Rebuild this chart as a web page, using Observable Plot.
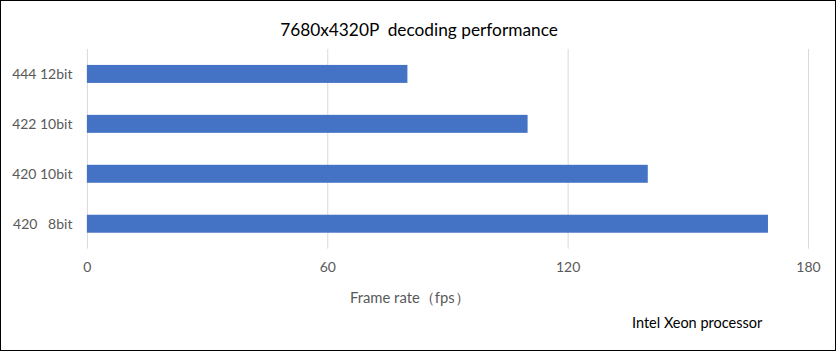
<!DOCTYPE html>
<html>
<head>
<meta charset="utf-8">
<script src="https://cdn.jsdelivr.net/npm/d3@7"></script>
<script src="https://cdn.jsdelivr.net/npm/@observablehq/plot@0.6"></script>
<style>
  html, body { margin: 0; padding: 0; background: #fff; }
  #frame { position: relative; width: 836px; height: 351px; border: 1px solid #000; box-sizing: border-box; overflow: hidden; font-family: Lato, "Liberation Sans", sans-serif; }
  #title { position: absolute; left: 0; width: 836px; top: 18px; text-align: center; font-size: 17.3px; color: #000; white-space: pre; }
  #xlabel { position: absolute; left: 349px; top: 287px; font-size: 14.8px; color: #595959; white-space: pre; }
  #note { position: absolute; left: 631px; top: 313px; font-size: 14.5px; color: #000; white-space: pre; }
  #chart { position: absolute; left: -1px; top: -1px; }
  #chart svg text { white-space: pre; }
</style>
</head>
<body>
<div id="frame">
  <div id="chart"></div>
  <div id="title">7680x4320P  decoding performance</div>
  <div id="xlabel">Frame rate（fps）</div>
  <div id="note">Intel Xeon processor</div>
</div>
<script>
const categories = ["444 12bit", "422 10bit", "420 10bit", "420   8bit"];
const fps = [80, 110, 140, 170];
const xTicks = [0, 60, 120, 180];

const data = categories.map((c, i) => ({category: c, fps: fps[i]}));

const chart = Plot.plot({
  width: 836,
  height: 310,
  marginTop: 49,
  marginBottom: 61,
  marginLeft: 87,
  marginRight: 27,
  style: {fontFamily: "Lato, 'Liberation Sans', sans-serif", fontSize: "14px", color: "#595959", background: "transparent"},
  x: {domain: [0, 180], ticks: xTicks, label: null},
  y: {domain: categories, paddingInner: 0.65, paddingOuter: 0.325, label: null},
  marks: [
    Plot.ruleX(xTicks, {stroke: "#d9d9d9", strokeWidth: 1}),
    Plot.barX(data, {x: "fps", y: "category", fill: "#4472C4"}),
    Plot.axisX({ticks: xTicks, tickSize: 0, tickPadding: 13, label: null, fontSize: 14}),
    Plot.axisY({tickSize: 0, tickPadding: 15, label: null, fontSize: 14})
  ]
});
document.getElementById("chart").appendChild(chart);
</script>
</body>
</html>
